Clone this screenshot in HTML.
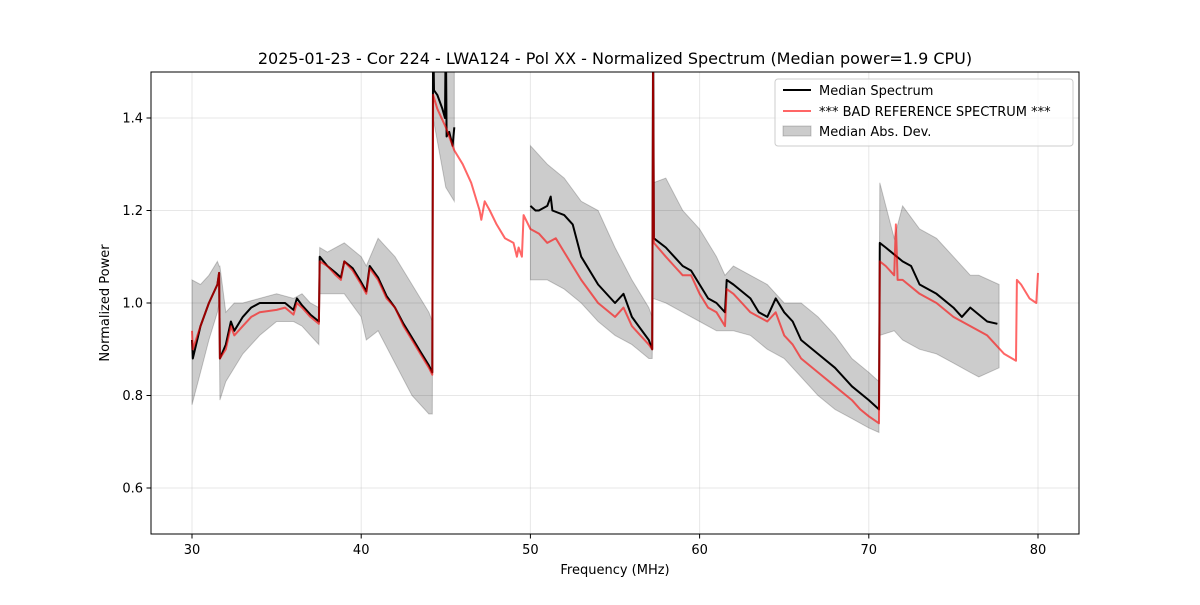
<!DOCTYPE html>
<html><head><meta charset="utf-8"><style>
body{margin:0;background:#fff;}
svg{font-family:"DejaVu Sans","Liberation Sans",sans-serif;}
</style></head><body>
<svg id="chart" width="1200" height="600" viewBox="0 0 1200 600" xmlns="http://www.w3.org/2000/svg">
<defs><clipPath id="clip"><rect x="151" y="72" width="928" height="462"/></clipPath></defs>
<rect x="0" y="0" width="1200" height="600" fill="#fff"/>
<text x="615" y="64" text-anchor="middle" font-size="16" fill="#000">2025-01-23 - Cor 224 - LWA124 - Pol XX - Normalized Spectrum (Median power=1.9 CPU)</text>
<g id="grid"></g>
<g id="plot" clip-path="url(#clip)"></g>
<rect x="151" y="72" width="928" height="462" fill="none" stroke="#000" stroke-width="1"/>
<g id="ticks"></g>
<text x="615" y="574" text-anchor="middle" font-size="13">Frequency (MHz)</text>
<text x="109" y="303" text-anchor="middle" font-size="13" transform="rotate(-90 109 303)">Normalized Power</text>
<g>
<rect x="775" y="79" width="298" height="67" rx="3" fill="#fff" fill-opacity="0.8" stroke="#ccc"/>
<line x1="783" y1="90" x2="811" y2="90" stroke="#000" stroke-width="2"/>
<text x="819" y="95" font-size="13">Median Spectrum</text>
<line x1="783" y1="111" x2="811" y2="111" stroke="#f00" stroke-opacity="0.6" stroke-width="2"/>
<text x="819" y="116" font-size="13">*** BAD REFERENCE SPECTRUM ***</text>
<rect x="783" y="126" width="28" height="10" fill="#000" fill-opacity="0.2" stroke="#000" stroke-opacity="0.2"/>
<text x="819" y="136" font-size="13">Median Abs. Dev.</text>
</g>
</svg>
<script>
const xTicks=[30,40,50,60,70,80];
const yTicks=[0.6,0.8,1.0,1.2,1.4];
const yTickLabels=["0.6","0.8","1.0","1.2","1.4"];
const refFreq=[30,30.05,30.5,31,31.5,31.6,31.65,32,32.3,32.5,33,33.5,34,35,35.5,36,36.2,36.5,37,37.5,37.55,38,38.5,38.8,39,39.5,40,40.3,40.5,41,41.5,42,42.5,43,43.5,44,44.2,44.25,44.5,45,45.5,46,46.5,47,47.1,47.3,47.6,48,48.5,49,49.2,49.3,49.5,49.6,50,50.5,51,51.5,52,52.5,53,54,55,55.5,56,56.5,57,57.2,57.25,57.3,58,58.5,59,59.5,60,60.5,61,61.5,61.6,62,62.5,63,63.5,64,64.5,65,65.5,66,67,68,69,69.5,70,70.6,70.65,71,71.5,71.6,71.7,72,73,74,75,76,77,78,78.7,78.75,79,79.5,79.9,80];
const refVal=[0.94,0.90,0.95,1.0,1.04,1.065,0.88,0.90,0.95,0.93,0.95,0.97,0.98,0.985,0.99,0.975,1.0,0.99,0.97,0.955,1.09,1.08,1.06,1.05,1.09,1.07,1.04,1.02,1.075,1.05,1.01,0.99,0.95,0.92,0.89,0.86,0.845,1.45,1.42,1.38,1.33,1.30,1.26,1.20,1.18,1.22,1.20,1.17,1.14,1.13,1.10,1.12,1.10,1.19,1.16,1.15,1.13,1.14,1.11,1.08,1.05,1.00,0.97,0.99,0.95,0.93,0.91,0.90,1.5,1.13,1.10,1.08,1.06,1.06,1.02,0.99,0.98,0.95,1.03,1.02,1.00,0.98,0.97,0.96,0.98,0.93,0.91,0.88,0.85,0.82,0.79,0.77,0.755,0.74,1.09,1.08,1.06,1.17,1.05,1.05,1.02,1.0,0.97,0.95,0.93,0.89,0.875,1.05,1.04,1.01,1.0,1.065];
const medFreq=[30,30.05,30.5,31,31.5,31.6,31.65,32,32.3,32.5,33,33.5,34,35,35.5,36,36.2,36.5,37,37.5,37.55,38,38.5,38.8,39,39.5,40,40.3,40.5,41,41.5,42,42.5,43,43.5,44,44.2,44.25,44.3,44.5,44.8,44.95,45,45.05,45.2,45.4,45.5,null,50,50.3,50.5,51,51.2,51.3,52,52.5,53,54,55,55.5,56,57,57.2,57.25,57.3,58,58.5,59,59.5,60,60.5,61,61.5,61.6,62,63,63.5,64,64.5,65,65.5,66,67,68,69,70,70.6,70.65,71,72,72.5,73,74,75,75.5,76,77,77.6];
const medVal=[0.92,0.88,0.95,1.0,1.04,1.065,0.88,0.91,0.96,0.94,0.97,0.99,1.0,1.0,1.0,0.985,1.01,0.995,0.975,0.96,1.10,1.08,1.065,1.055,1.09,1.075,1.045,1.025,1.08,1.055,1.015,0.99,0.955,0.925,0.895,0.865,0.85,1.6,1.46,1.45,1.42,1.40,1.6,1.36,1.37,1.34,1.38,null,1.21,1.20,1.20,1.21,1.23,1.20,1.19,1.17,1.10,1.04,1.00,1.02,0.97,0.92,0.90,1.6,1.14,1.12,1.10,1.08,1.07,1.04,1.01,1.00,0.98,1.05,1.04,1.01,0.98,0.97,1.01,0.98,0.96,0.92,0.89,0.86,0.82,0.79,0.77,1.13,1.12,1.09,1.08,1.04,1.02,0.99,0.97,0.99,0.96,0.955];
const madFreq=[[30,30.5,31,31.5,31.6,31.65,32,32.5,33,34,35,36,36.5,37,37.5,37.55,38,39,40,40.3,41,42,43,44,44.2,44.25,45,45.5],[50,51,52,53,54,55,56,57,57.2,57.25,58,59,60,61,61.5,62,63,64,65,66,67,68,69,70,70.6,70.65,71.5,72,73,74,75,76,76.5,77.7]];
const madLo=[[0.78,0.85,0.92,0.98,1.0,0.79,0.83,0.86,0.89,0.93,0.96,0.96,0.95,0.93,0.91,1.02,1.02,1.02,0.97,0.92,0.94,0.87,0.80,0.76,0.76,1.40,1.25,1.22],[1.05,1.05,1.03,1.00,0.96,0.93,0.91,0.88,0.88,1.01,1.00,0.98,0.96,0.94,0.94,0.94,0.93,0.90,0.88,0.84,0.80,0.77,0.75,0.73,0.72,0.93,0.94,0.92,0.90,0.89,0.87,0.85,0.84,0.86]];
const madHi=[[1.05,1.04,1.06,1.09,1.08,1.08,0.98,1.00,1.00,1.01,1.02,1.01,1.02,1.00,0.99,1.12,1.11,1.13,1.10,1.08,1.14,1.10,1.04,0.98,0.96,1.5,1.5,1.5],[1.34,1.30,1.27,1.22,1.20,1.12,1.05,0.99,0.97,1.26,1.27,1.20,1.16,1.10,1.06,1.08,1.06,1.04,1.00,1.00,0.97,0.93,0.88,0.85,0.83,1.26,1.14,1.21,1.16,1.14,1.10,1.06,1.06,1.04]];

const NS='http://www.w3.org/2000/svg';
function xs(f){return 192+(f-30)*16.92;}
function ys(v){return 488-(v-0.6)*462.5;}
const grid=document.getElementById('grid'),ticks=document.getElementById('ticks'),plot=document.getElementById('plot');
function mk(tag,attrs,parent){const e=document.createElementNS(NS,tag);for(const k in attrs)e.setAttribute(k,attrs[k]);parent.appendChild(e);return e;}
xTicks.forEach(t=>{
  const g=mk('line',{x1:xs(t),x2:xs(t),y1:72,y2:534,stroke:'#b0b0b0','stroke-opacity':0.3},grid);
  
  
  const tk=mk('line',{x1:xs(t),x2:xs(t),y1:534,y2:538.5,stroke:'#000'},ticks);
  
  
  const l=mk('text',{x:xs(t),y:554,'text-anchor':'middle','font-size':13},ticks);l.textContent=String(t);
  
  
});
yTicks.forEach((t,i)=>{
  const g=mk('line',{x1:151,x2:1079,y1:ys(t),y2:ys(t),stroke:'#b0b0b0','stroke-opacity':0.3},grid);
  
  
  const tk=mk('line',{x1:146.5,x2:151,y1:ys(t),y2:ys(t),stroke:'#000'},ticks);
  
  
  const l=mk('text',{x:143,y:ys(t)+4.5,'text-anchor':'end','font-size':13},ticks);l.textContent=yTickLabels[i];
  
  
});
madFreq.forEach((fs,s)=>{
  let d='';
  fs.forEach((f,i)=>{d+=(i?'L':'M')+xs(f).toFixed(1)+','+ys(madHi[s][i]).toFixed(1);});
  for(let i=fs.length-1;i>=0;i--)d+='L'+xs(fs[i]).toFixed(1)+','+ys(madLo[s][i]).toFixed(1);
  const p=mk('path',{d:d+'Z',fill:'#000','fill-opacity':0.2,stroke:'#000','stroke-opacity':0.2},plot);
  
  
});
function line(fr,vals,color,op){
  let d='',pen=false;
  fr.forEach((f,i)=>{if(f===null||vals[i]===null){pen=false;return;}d+=(pen?'L':'M')+xs(f).toFixed(1)+','+ys(vals[i]).toFixed(1);pen=true;});
  return mk('path',{d:d,fill:'none',stroke:color,'stroke-opacity':op,'stroke-width':2,'stroke-linejoin':'round'},plot);
}
const m=line(medFreq,medVal,'#000',1);


const r=line(refFreq,refVal,'#f00',0.6);


</script>
</body></html>
